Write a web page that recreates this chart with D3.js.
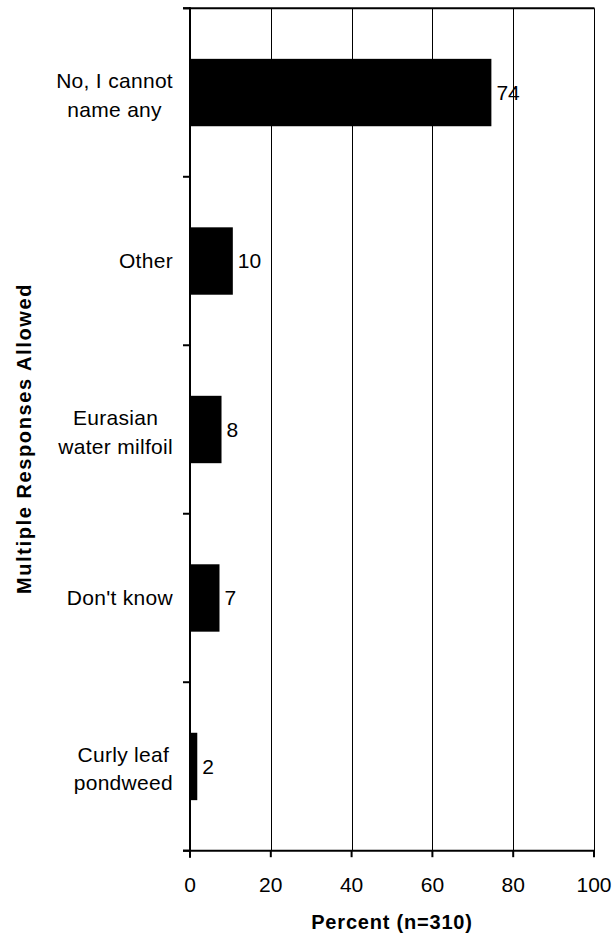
<!DOCTYPE html>
<html>
<head>
<meta charset="utf-8">
<script src="https://cdn.jsdelivr.net/npm/d3@7"></script>
<style>
  body { margin: 0; background: #fff; }
  svg text { font-family: "Liberation Sans", Arial, sans-serif; fill: #000; }
</style>
</head>
<body>
<div id="chart"></div>
<script>
// answers, top to bottom
const categories = [
    "No, I cannot\nname any",
    "Other",
    "Eurasian\nwater milfoil",
    "Don't know",
    "Curly leaf\npondweed"
];
// bar lengths as drawn (percent)
const percents = [74.6, 10.6, 7.8, 7.3, 1.8];
// data labels shown next to bars
const valueLabels = ["74", "10", "8", "7", "2"];
const xTicks = [0, 20, 40, 60, 80, 100];

const width = 613;
const height = 935;
const margin = { top: 8.3, right: 19, bottom: 84.3, left: 190 };
const fs = 21;

const svg = d3.select("#chart").append("svg")
    .attr("width", width)
    .attr("height", height);

const x = d3.scaleLinear()
    .domain([0, 100])
    .range([margin.left, width - margin.right]);

const y = d3.scaleBand()
    .domain(categories)
    .range([margin.top, height - margin.bottom])
    .paddingInner(0.6)
    .paddingOuter(0.3);

const y0 = margin.top, y1 = height - margin.bottom;

// gridlines
svg.append("g")
    .selectAll("line")
    .data(xTicks.filter(d => d > 0))
    .join("line")
    .attr("x1", d => Math.round(x(d)) + 0.5)
    .attr("x2", d => Math.round(x(d)) + 0.5)
    .attr("y1", y0)
    .attr("y2", y1)
    .attr("stroke", "#000")
    .attr("stroke-width", 1);

// top frame
svg.append("line")
    .attr("x1", x(0) - 7).attr("x2", x(100) + 0.5)
    .attr("y1", y0).attr("y2", y0)
    .attr("stroke", "#000").attr("stroke-width", 2);

// bars
svg.append("g")
    .selectAll("rect")
    .data(percents)
    .join("rect")
    .attr("x", x(0))
    .attr("y", (d, i) => y(categories[i]))
    .attr("width", d => x(d) - x(0))
    .attr("height", y.bandwidth())
    .attr("fill", "#000");

// value labels
svg.append("g")
    .selectAll("text")
    .data(percents)
    .join("text")
    .attr("x", d => x(d) + 5)
    .attr("y", (d, i) => y(categories[i]) + y.bandwidth() / 2)
    .attr("dy", "0.35em")
    .attr("font-size", fs)
    .text((d, i) => valueLabels[i]);

// y axis with band-boundary ticks
const yAxis = svg.append("g");
yAxis.append("line")
    .attr("x1", x(0)).attr("x2", x(0))
    .attr("y1", y0 - 1).attr("y2", y1 + 7)
    .attr("stroke", "#000").attr("stroke-width", 2);
const bounds = d3.range(categories.length + 1).map(i => y0 + i * y.step());
yAxis.selectAll("line.tick")
    .data(bounds)
    .join("line")
    .attr("class", "tick")
    .attr("x1", x(0) - 7).attr("x2", x(0))
    .attr("y1", d => d).attr("y2", d => d)
    .attr("stroke", "#000").attr("stroke-width", 2);

// category labels: lines centred on each other, block right-aligned
const lh = 28.5;
const labels = svg.append("g")
    .selectAll("text")
    .data(categories)
    .join("text")
    .attr("font-size", fs)
    .style("letter-spacing", "0.3px")
    .attr("text-anchor", "middle");
labels.each(function(d) {
    const t = d3.select(this);
    const lines = d.split("\n");
    const cy = y(d) + y.bandwidth() / 2;
    const first = lines.length > 1 ? cy - 4.5 : cy + 0.35 * fs;
    const spans = lines.map((s, i) => t.append("tspan")
        .attr("y", first + i * lh)
        .text(s));
    const maxW = d3.max(spans, s => s.node().getComputedTextLength());
    spans.forEach(s => s.attr("x", x(0) - 17 - maxW / 2));
});

// x axis
const xAxis = svg.append("g").attr("transform", `translate(0,${y1})`);
xAxis.append("line")
    .attr("x1", x(0) - 7).attr("x2", x(100) + 1)
    .attr("stroke", "#000").attr("stroke-width", 2);
xAxis.selectAll("line.tick")
    .data(xTicks)
    .join("line")
    .attr("class", "tick")
    .attr("x1", d => x(d)).attr("x2", d => x(d))
    .attr("y1", 0).attr("y2", 6.5)
    .attr("stroke", "#000").attr("stroke-width", 2);
xAxis.selectAll("text")
    .data(xTicks)
    .join("text")
    .attr("x", d => x(d))
    .attr("y", 41.5)
    .attr("text-anchor", "middle")
    .attr("font-size", fs)
    .text(d => d);

// axis titles
svg.append("text")
    .attr("x", (x(0) + x(100)) / 2)
    .attr("y", 928.5)
    .attr("text-anchor", "middle")
    .attr("font-size", 20)
    .attr("font-weight", "bold")
    .style("letter-spacing", "0.8px")
    .text("Percent (n=310)");

svg.append("text")
    .attr("transform", `translate(31,${(y0 + y1) / 2 + 9}) rotate(-90)`)
    .attr("text-anchor", "middle")
    .attr("font-size", 20)
    .attr("font-weight", "bold")
    .style("letter-spacing", "1.6px")
    .text("Multiple Responses Allowed");
</script>
</body>
</html>
